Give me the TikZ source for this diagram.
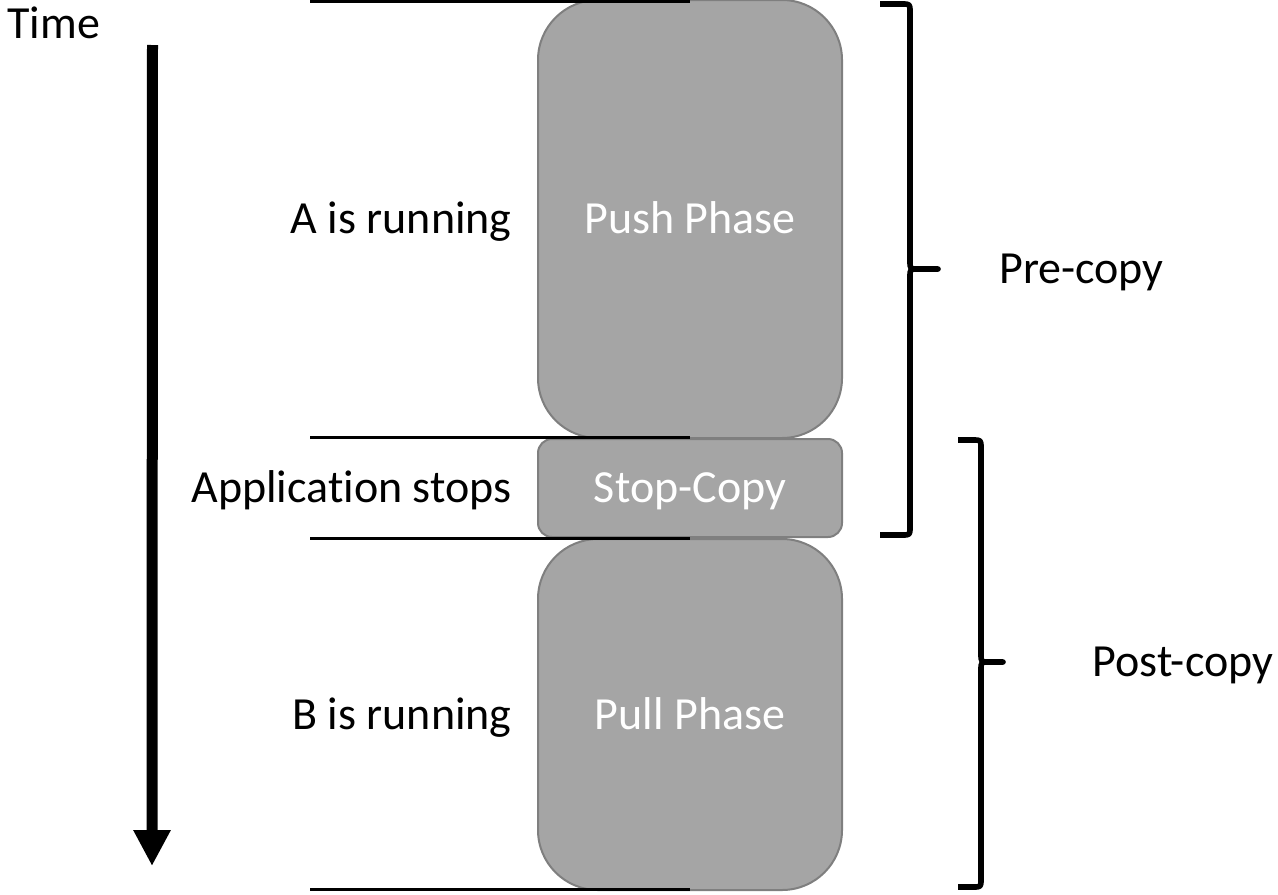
\documentclass[tikz,border=0pt]{standalone}
\usepackage{fontspec}
\setmainfont{Carlito}[Ligatures=NoCommon]
\usetikzlibrary{positioning,arrows.meta}
\definecolor{phasegray}{HTML}{A5A5A5}
\definecolor{phaseline}{HTML}{7F7F7F}

\begin{document}
\begin{tikzpicture}[x=0.5pt,y=-0.5pt,
    font=\fontsize{23}{28}\selectfont,
    txt/.style={inner sep=0pt, text height=14.8pt, text depth=0pt},
    phase/.style={txt, draw=phaseline, line width=1pt, fill=phasegray,
      text=white, minimum width=152pt},
    level/.style={line width=1.5pt},
    brace/.style={line width=2.8pt, line join=round}]
    \useasboundingbox (0,0) rectangle (1278,894);

    % the three phases
    \node[phase, rounded corners=30pt, minimum height=219pt] (push) at (690,219) {Push Phase};
    \node[phase, rounded corners=7pt, minimum height=49pt] (stop) at (690,488) {Stop-Copy};
    \node[phase, rounded corners=30pt, minimum height=175.5pt] (pull) at (690,714.5) {Pull Phase};

    \node[txt, left=12.5pt of push] (arun) {A is running};
    \node[txt, left=12.5pt of stop] (appstop) {Application stops};
    \node[txt, left=12.5pt of pull] (brun) {B is running};

    % time axis
    \node[txt, anchor=west] (time) at (7,23.5) {Time};
    \coordinate (tstart) at (152.5,45);
    \coordinate (tend) at (152,866);
    \draw[line width=5.5pt, -{Triangle[length=18pt,width=17.5pt]}] (tstart) -- (tend);

    % boundaries between phases
    \coordinate (l1) at (310,1.5);
    \coordinate (l2) at (310,437.5);
    \coordinate (l3) at (310,538);
    \coordinate (l4) at (310,889.5);
    \draw[level] (l1) -- (l1 -| push);
    \draw[level] (l2) -- (l2 -| push);
    \draw[level] (l3) -- (l3 -| push);
    \draw[level] (l4) -- (l4 -| pull);

    % braces
    \coordinate (pretip) at (938,269);
    \coordinate (posttip) at (1003,662);
    \draw[brace] (880,4) -- (902,4) .. controls (910,4) .. (910,12) -- (910,261)
      .. controls (910,269) .. (918,269) -- (pretip) -- (918,269)
      .. controls (910,269) .. (910,277) -- (910,527)
      .. controls (910,535) .. (902,535) -- (880,535);
    \draw[brace] (958,440) -- (973,440) .. controls (981,440) .. (981,448) -- (981,654)
      .. controls (981,662) .. (989,662) -- (posttip) -- (989,662)
      .. controls (981,662) .. (981,670) -- (981,879)
      .. controls (981,887) .. (973,887) -- (958,887);

    \node[txt, right=30.5pt of pretip] (pre) {Pre-copy};
    \node[txt, right=44.5pt of posttip] (post) {Post-copy};
\end{tikzpicture}
\end{document}
